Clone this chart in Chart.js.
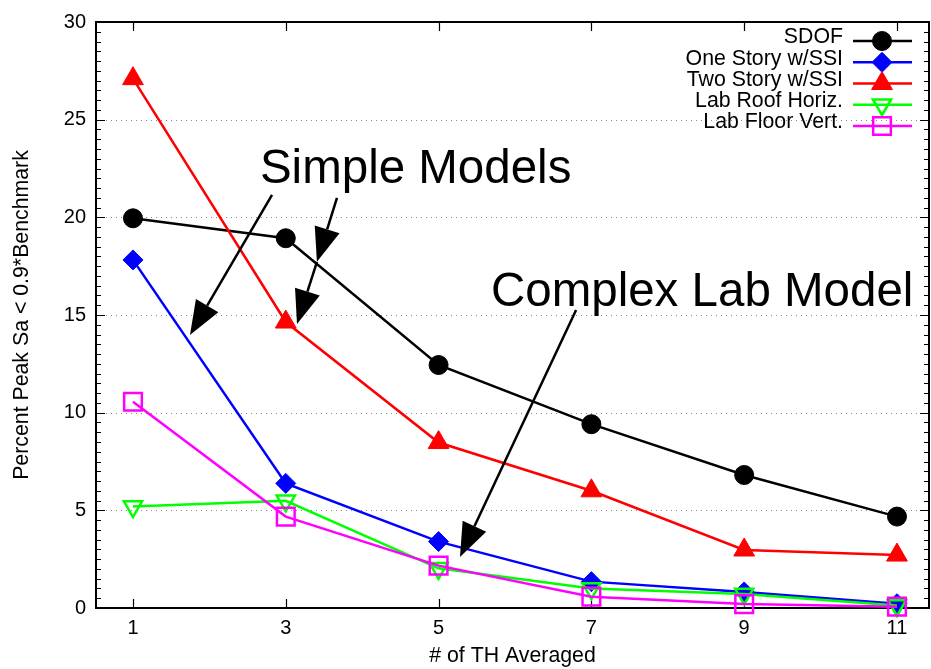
<!DOCTYPE html>
<html>
<head>
<meta charset="utf-8">
<script src="https://cdn.jsdelivr.net/npm/chart.js@4/dist/chart.umd.min.js"></script>
<style>
  html, body { margin: 0; padding: 0; background: #fff; }
  #wrap { width: 931px; height: 669px; }
</style>
</head>
<body>
<div id="wrap"><canvas id="chart" width="931" height="669"></canvas></div>
<script>
// x = number of time histories averaged
const thCounts = [1, 3, 5, 7, 9, 11];
const xTicks = [1, 3, 5, 7, 9, 11];
const yTicks = [0, 5, 10, 15, 20, 25, 30];

const sdof      = [19.95, 18.93, 12.44, 9.41, 6.81, 4.68];
const oneStory  = [17.82, 6.38, 3.40, 1.35, 0.82, 0.22];
const twoStory  = [27.1, 14.64, 8.47, 6.0, 2.97, 2.71];
const labRoof   = [5.19, 5.49, 2.03, 1.0, 0.72, 0.13];
const labFloor  = [10.56, 4.68, 2.17, 0.58, 0.2, 0.07];

const seriesNames = ["SDOF", "One Story w/SSI", "Two Story w/SSI", "Lab Roof Horiz.", "Lab Floor Vert."];

// annotations in data units: [x1, y1, x2, y2]
const arrows = [
    [2.82, 21.15, 1.746, 13.98],
    [3.67, 20.99, 3.408, 17.72],
    [3.408, 17.72, 3.147, 14.54],
    [6.80, 15.26, 5.28, 2.61]
];
const labels = [
    { text: "Simple Models", x: 4.70, y: 21.74 },
    { text: "Complex Lab Model", x: 8.45, y: 15.45 }
];

const FONT = "'Liberation Sans', Arial, sans-serif";

function pts(vals) {
    return vals.map((v, i) => ({ x: thCounts[i], y: v }));
}

function series(i, vals, color, style, radius, filled, rotation, order) {
    return {
        label: seriesNames[i],
        data: pts(vals),
        borderColor: color,
        backgroundColor: filled ? color : "rgba(0,0,0,0)",
        borderWidth: 2.5,
        pointStyle: style,
        pointRadius: radius,
        pointHoverRadius: radius,
        pointRotation: rotation || 0,
        pointBorderWidth: filled ? 1 : 2.5,
        pointBackgroundColor: filled ? color : "rgba(0,0,0,0)",
        pointBorderColor: color,
        tension: 0,
        fill: false,
        clip: false,
        order: order
    };
}

const datasets = [
    series(0, sdof, "#000000", "circle", 9.5, true, 0, 5),
    series(1, oneStory, "#0000ff", "rectRot", 10, true, 0, 4),
    series(2, twoStory, "#ff0000", "triangle", 12, true, 0, 3),
    series(3, labRoof, "#00ff00", "triangle", 10.5, false, 180, 2),
    series(4, labFloor, "#ff00ff", "rect", 12.5, false, 0, 1)
];

// grid, ticks and frame like gnuplot
const framePlugin = {
    id: "frame",
    beforeDatasetsDraw(chart) {
        const { ctx, chartArea: a, scales } = chart;
        const xs = scales.x, ys = scales.y;
        ctx.save();
        ctx.strokeStyle = "#888";
        ctx.lineWidth = 1;
        ctx.setLineDash([1, 4]);
        yTicks.forEach(v => {
            if (v === 0 || v === 30) return;
            const y = Math.round(ys.getPixelForValue(v)) + 0.5;
            ctx.beginPath();
            ctx.moveTo(a.left, y);
            ctx.lineTo(a.right, y);
            ctx.stroke();
        });
        ctx.setLineDash([]);
        ctx.strokeStyle = "#000";
        ctx.lineWidth = 1.2;
        for (let v = 0; v <= 30; v += 0.5) {
            const y = Math.round(ys.getPixelForValue(v)) + 0.5;
            const len = (v % 5 === 0) ? 9 : 5;
            ctx.beginPath();
            ctx.moveTo(a.left, y); ctx.lineTo(a.left + len, y);
            ctx.moveTo(a.right, y); ctx.lineTo(a.right - len, y);
            ctx.stroke();
        }
        xTicks.forEach(v => {
            const x = Math.round(xs.getPixelForValue(v)) + 0.5;
            ctx.beginPath();
            ctx.moveTo(x, a.bottom); ctx.lineTo(x, a.bottom - 9);
            ctx.moveTo(x, a.top); ctx.lineTo(x, a.top + 9);
            ctx.stroke();
        });
        ctx.lineWidth = 2;
        ctx.strokeRect(a.left, a.top, a.right - a.left, a.bottom - a.top);
        ctx.restore();
    },
    afterDatasetsDraw(chart) {
        const { ctx, scales } = chart;
        const xs = scales.x, ys = scales.y;
        ctx.save();
        // arrows
        ctx.strokeStyle = "#000";
        ctx.fillStyle = "#000";
        ctx.lineWidth = 2.5;
        arrows.forEach(([x1, y1, x2, y2]) => {
            const px1 = xs.getPixelForValue(x1), py1 = ys.getPixelForValue(y1);
            const px2 = xs.getPixelForValue(x2), py2 = ys.getPixelForValue(y2);
            const dx = px2 - px1, dy = py2 - py1;
            const len = Math.hypot(dx, dy);
            const ux = dx / len, uy = dy / len;
            const headL = 34, headW = 13;
            const bx = px2 - ux * headL, by = py2 - uy * headL;
            ctx.beginPath();
            ctx.moveTo(px1, py1);
            ctx.lineTo(bx, by);
            ctx.stroke();
            ctx.beginPath();
            ctx.moveTo(px2, py2);
            ctx.lineTo(bx - uy * headW, by + ux * headW);
            ctx.lineTo(bx + uy * headW, by - ux * headW);
            ctx.closePath();
            ctx.fill();
        });
        // big labels
        ctx.font = "47.5px " + FONT;
        ctx.textAlign = "center";
        ctx.textBaseline = "alphabetic";
        labels.forEach(l => {
            ctx.fillText(l.text, xs.getPixelForValue(l.x), ys.getPixelForValue(l.y));
        });
        // legend
        const rowY = [41, 62.3, 83.5, 104.7, 126];
        ctx.font = "21.3px " + FONT;
        ctx.textAlign = "right";
        ctx.textBaseline = "middle";
        chart.data.datasets.forEach((ds, i) => {
            const y = rowY[i];
            ctx.fillStyle = "#000";
            ctx.fillText(ds.label, 843, y - 3.5);
            ctx.strokeStyle = ds.borderColor;
            ctx.lineWidth = 2.5;
            ctx.beginPath();
            ctx.moveTo(853, y);
            ctx.lineTo(912, y);
            ctx.stroke();
            ctx.fillStyle = ds.pointBackgroundColor;
            ctx.strokeStyle = ds.pointBorderColor;
            ctx.lineWidth = ds.pointBorderWidth;
            Chart.helpers.drawPoint(ctx, {
                pointStyle: ds.pointStyle,
                rotation: ds.pointRotation,
                radius: ds.pointRadius,
                borderWidth: ds.pointBorderWidth
            }, 882, y);
        });
        ctx.restore();
    }
};

new Chart(document.getElementById("chart"), {
    type: "line",
    data: { datasets: datasets },
    options: {
        responsive: false,
        animation: false,
        devicePixelRatio: 1,
        layout: { autoPadding: false, padding: { top: 22, right: 2, left: 0, bottom: 0 } },
        plugins: {
            legend: { display: false },
            tooltip: { enabled: false }
        },
        scales: {
            x: {
                type: "linear",
                min: 0.516,
                max: 11.419,
                afterBuildTicks: s => { s.ticks = xTicks.map(v => ({ value: v })); },
                afterFit: s => { s.height = 61; s.paddingLeft = 0; s.paddingRight = 0; },
                grid: { display: false, drawTicks: false },
                border: { display: false },
                ticks: { color: "#000", font: { family: FONT, size: 20 }, padding: 8, maxRotation: 0 },
                title: { display: true, text: "# of TH Averaged", color: "#000", font: { family: FONT, size: 21.3 }, padding: 0 }
            },
            y: {
                type: "linear",
                min: 0,
                max: 30,
                afterBuildTicks: s => { s.ticks = yTicks.map(v => ({ value: v })); },
                afterFit: s => { s.width = 96; },
                grid: { display: false, drawTicks: false },
                border: { display: false },
                ticks: { color: "#000", font: { family: FONT, size: 20 }, padding: 10 },
                title: { display: true, text: "Percent Peak Sa < 0.9*Benchmark", color: "#000", font: { family: FONT, size: 21.3 }, padding: { top: 9, bottom: 0 } }
            }
        }
    },
    plugins: [framePlugin]
});
</script>
</body>
</html>
